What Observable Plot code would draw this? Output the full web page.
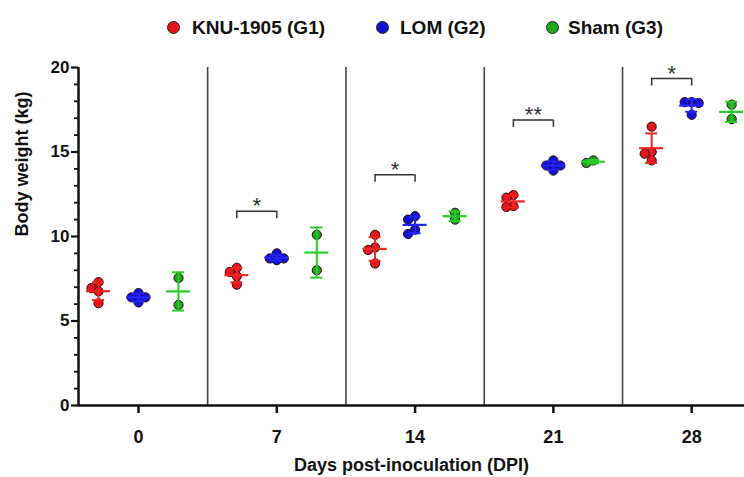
<!DOCTYPE html>
<html><head><meta charset="utf-8">
<script src="https://cdn.jsdelivr.net/npm/d3@7"></script>
<script src="https://cdn.jsdelivr.net/npm/@observablehq/plot@0.6"></script>
<style>
body{margin:0;background:#fff;font-family:"Liberation Sans",Arial,sans-serif;}
#wrap{position:relative;width:744px;height:477px;overflow:hidden;}
#legend{position:relative;width:744px;height:50px;}
.ldot{position:absolute;top:21px;width:11px;height:11px;border-radius:50%;border:1px solid #222;}
.ltxt{position:absolute;top:27px;transform:translateY(-50%);font-weight:bold;font-size:19px;line-height:1;color:#111;white-space:nowrap;}
</style></head>
<body><div id="wrap"><div id="legend"></div><div id="chart"></div></div>
<script>
// ---- data ----
const days = ["0", "7", "14", "21", "28"];
const groupNames = ["KNU-1905 (G1)", "LOM (G2)", "Sham (G3)"];
const g1 = [[7.3, 6.95, 6.75, 6.05], [7.9, 8.15, 7.65, 7.15], [10.1, 9.35, 9.2, 8.4], [12.3, 12.45, 11.75, 11.8], [16.5, 15.0, 14.9, 14.5]];
const g2 = [[6.65, 6.4, 6.4, 6.1], [9.0, 8.6, 8.7, 8.7], [11.0, 11.2, 10.15, 10.4], [14.5, 13.9, 14.2, 14.2], [17.95, 17.95, 17.9, 17.2]];
const g3 = [[7.55, 5.95], [10.1, 8.0], [11.4, 11.0], [14.35, 14.5], [17.8, 16.95]];
const sigLevel = [null, 11.5, 13.65, 16.9, 19.35];
const sigLabel = ["", "*", "*", "**", "*"];
const yTicks = [0, 5, 10, 15, 20];

// ---- styling / layout ----
const dotColors = ["#e8141c", "#1212d2", "#22a322"];
const barColors = ["#f22424", "#2424ff", "#27cc27"];
const legendDotX = [167, 376, 546];
const legendTxtX = [192, 400, 568];

const W = 744, H = 427, mL = 78, mR = 0, mT = 17, mB = 72;
const xDomain = [-0.434, 4.382];
const pxX = (xDomain[1] - xDomain[0]) / (W - mL - mR); // x units per px
const pxY = (H - mT - mB) / 20; // px per y unit
const groupOffsetPx = [-40, 0, 40];
const R = 4.6, STEP = 7, MIND = 6.5;

const groups = [g1, g2, g3];
const points = [], stats = [];
groups.forEach((g, gi) => {
  g.forEach((vals, di) => {
    const cx = di + groupOffsetPx[gi] * pxX;
    const order = vals.map((v, i) => i).sort((a, b) => vals[b] - vals[a]);
    const placed = [];
    for (const i of order) {
      const v = vals[i];
      let off = 0;
      for (const k of [0, -1, 1, -2, 2, -3, 3]) {
        const o = k * STEP;
        const hit = placed.some(p => Math.hypot(o - p.o, (v - p.v) * pxY) < MIND);
        if (!hit) { off = o; break; }
      }
      placed.push({o: off, v});
      points.push({x: cx + off * pxX, y: v, g: gi});
    }
    const m = d3.mean(vals), sd = d3.deviation(vals);
    stats.push({x: cx, mean: m, lo: m - sd, hi: m + sd, g: gi});
  });
});

const meanHalf = 12 * pxX, capHalf = 6 * pxX;
const brackets = [];
days.forEach((d, di) => {
  if (sigLevel[di] == null) return;
  const x1 = di + groupOffsetPx[0] * pxX, x2 = di + groupOffsetPx[1] * pxX;
  const top = sigLevel[di], leg = top - 7.5 / pxY;
  brackets.push({x1, x2, top, leg, label: sigLabel[di], xm: (x1 + x2) / 2});
});

// legend
const leg = document.getElementById("legend");
groupNames.forEach((n, i) => {
  const d = document.createElement("div"); d.className = "ldot";
  d.style.left = legendDotX[i] + "px"; d.style.background = dotColors[i];
  const t = document.createElement("div"); t.className = "ltxt";
  t.style.left = legendTxtX[i] + "px"; t.textContent = n;
  leg.appendChild(d); leg.appendChild(t);
});

const chart = Plot.plot({
  width: W, height: H, marginLeft: mL, marginRight: mR, marginTop: mT, marginBottom: mB,
  style: {fontFamily: "'Liberation Sans', Arial, sans-serif", background: "#fff", color: "#111"},
  x: {domain: xDomain, axis: null},
  y: {domain: [0, 20], axis: null},
  marks: [
    Plot.ruleX(days.slice(1).map((d, i) => i + 0.5), {y1: 0, y2: 20, stroke: "#444", strokeWidth: 1.6}),
    Plot.axisY({ticks: d3.range(0, 21).filter(v => v % 5 !== 0), tickSize: 4, tickFormat: () => "", strokeWidth: 1.8}),
    Plot.axisY({ticks: yTicks, tickSize: 7, tickPadding: 2, fontSize: 17, fontWeight: "bold", strokeWidth: 2.2}),
    Plot.axisX({ticks: days.map((d, i) => i), tickFormat: i => days[i], tickSize: 8, tickPadding: 17, fontSize: 18, fontWeight: "bold", strokeWidth: 2.5}),
    Plot.ruleX([xDomain[0]], {y1: 0, y2: 20, strokeWidth: 2.5, stroke: "#111"}),
    Plot.ruleY([0], {strokeWidth: 2.5, stroke: "#111"}),
    Plot.dot(points, {x: "x", y: "y", r: R, fill: d => dotColors[d.g], stroke: "#2a0a0a", strokeWidth: 1}),
    // error bars
    Plot.ruleX(stats, {x: "x", y1: "lo", y2: "hi", stroke: d => barColors[d.g], strokeWidth: 2}),
    Plot.ruleY(stats, {y: "mean", x1: d => d.x - meanHalf, x2: d => d.x + meanHalf, stroke: d => barColors[d.g], strokeWidth: 2.2}),
    Plot.ruleY(stats, {y: "hi", x1: d => d.x - capHalf, x2: d => d.x + capHalf, stroke: d => barColors[d.g], strokeWidth: 2}),
    Plot.ruleY(stats, {y: "lo", x1: d => d.x - capHalf, x2: d => d.x + capHalf, stroke: d => barColors[d.g], strokeWidth: 2}),
    // significance brackets
    Plot.ruleY(brackets, {y: "top", x1: "x1", x2: "x2", stroke: "#333", strokeWidth: 1.5}),
    Plot.ruleX(brackets, {x: "x1", y1: "leg", y2: "top", stroke: "#333", strokeWidth: 1.5}),
    Plot.ruleX(brackets, {x: "x2", y1: "leg", y2: "top", stroke: "#333", strokeWidth: 1.5}),
    Plot.text(brackets, {x: "xm", y: "top", text: "label", dy: -5, fontSize: 22, fill: "#333"}),
    // axis titles
    Plot.text(["Body weight (kg)"], {frameAnchor: "left", dx: -56, rotate: -90, fontSize: 18, fontWeight: "bold", fill: "#111"}),
    Plot.text(["Days post-inoculation (DPI)"], {frameAnchor: "bottom", dy: 65, fontSize: 18, fontWeight: "bold", fill: "#111"})
  ]
});
document.getElementById("chart").appendChild(chart);
</script></body></html>
